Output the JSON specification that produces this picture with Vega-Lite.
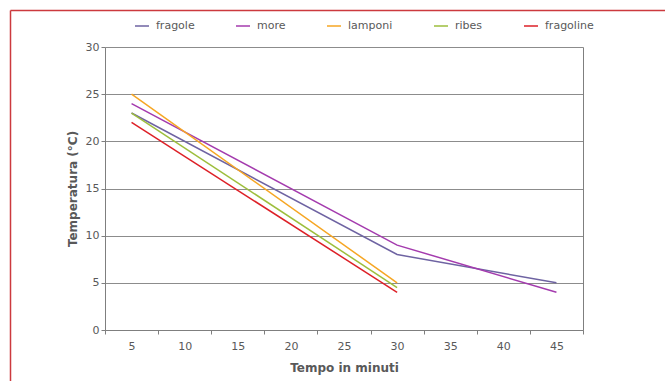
{
  "$schema": "https://vega.github.io/schema/vega-lite/v6.json",
  "width": 655,
  "height": 371,
  "autosize": "none",
  "padding": {"left": 10, "top": 10, "right": 0, "bottom": 0},
  "background": "white",
  "config": {
    "view": {"stroke": null},
    "font": "DejaVu Sans",
    "axis": {
      "labelFont": "DejaVu Sans",
      "labelFontSize": 11,
      "labelColor": "#595959",
      "titleFont": "DejaVu Sans",
      "titleFontSize": 12,
      "titleFontWeight": "bold",
      "titleColor": "#595959",
      "domainColor": "#7f7f7f",
      "tickColor": "#7f7f7f",
      "gridColor": "#8c8c8c",
      "gridOpacity": 1,
      "domainWidth": 1,
      "tickWidth": 1,
      "tickSize": 4
    }
  },
  "data": {
    "values": [
      {"serie": "fragole", "minuti": 5, "temp": 23},
      {"serie": "fragole", "minuti": 30, "temp": 8},
      {"serie": "fragole", "minuti": 45, "temp": 5},
      {"serie": "more", "minuti": 5, "temp": 24},
      {"serie": "more", "minuti": 30, "temp": 9},
      {"serie": "more", "minuti": 45, "temp": 4},
      {"serie": "lamponi", "minuti": 5, "temp": 25},
      {"serie": "lamponi", "minuti": 30, "temp": 5},
      {"serie": "ribes", "minuti": 5, "temp": 23},
      {"serie": "ribes", "minuti": 30, "temp": 4.5},
      {"serie": "fragoline", "minuti": 5, "temp": 22},
      {"serie": "fragoline", "minuti": 30, "temp": 4}
    ]
  },
  "layer": [
    {
      "mark": {"type": "line", "strokeWidth": 1.5},
      "encoding": {
        "x": {
          "field": "minuti",
          "type": "ordinal",
          "scale": {"type": "band", "domain": [5, 10, 15, 20, 25, 30, 35, 40, 45], "range": [95, 573], "paddingInner": 0, "paddingOuter": 0},
          "axis": {"title": "Tempo in minuti", "orient": "bottom", "offset": -51, "tickBand": "extent", "labelAngle": 0, "labelPadding": 6, "titlePadding": 11, "grid": false}
        },
        "y": {
          "field": "temp",
          "type": "quantitative",
          "scale": {"domain": [0, 30], "range": [320, 37], "nice": false},
          "axis": {"title": "Temperatura (°C)", "orient": "left", "offset": -95, "values": [0, 5, 10, 15, 20, 25, 30], "grid": true, "labelPadding": 2, "titlePadding": 6}
        },
        "color": {
          "field": "serie",
          "type": "nominal",
          "scale": {"domain": ["fragole", "more", "lamponi", "ribes", "fragoline"], "range": ["#6e63a2", "#a43bae", "#f6a623", "#9dbe3c", "#dd2027"]},
          "legend": {"orient": "none", "legendX": 124, "legendY": 8, "direction": "horizontal", "columns": 5, "title": null, "symbolType": "stroke", "symbolSize": 196, "symbolStrokeWidth": 1.5, "labelFontSize": 11, "labelColor": "#595959", "labelFont": "DejaVu Sans", "columnPadding": 38, "labelOffset": 6, "padding": 0}
        }
      }
    },
    {
      "mark": {"type": "line", "opacity": 0},
      "encoding": {
        "detail": {"field": "serie", "type": "nominal"},
        "x": {
          "field": "minuti",
          "type": "ordinal",
          "scale": {"type": "band", "domain": [5, 10, 15, 20, 25, 30, 35, 40, 45], "range": [95, 573], "paddingInner": 0, "paddingOuter": 0},
          "axis": null
        },
        "y": {
          "field": "temp",
          "type": "quantitative",
          "scale": {"domain": [0, 30], "range": [320, 37], "nice": false},
          "axis": {"orient": "right", "offset": -82, "title": null, "ticks": false, "labels": false, "grid": false, "domain": true}
        }
      }
    },
    {
      "mark": {"type": "line", "opacity": 0},
      "encoding": {
        "detail": {"field": "serie", "type": "nominal"},
        "x": {
          "field": "minuti",
          "type": "quantitative",
          "scale": {"domain": [5, 45], "nice": false, "zero": false},
          "axis": {"orient": "top", "title": null, "ticks": false, "labels": false, "grid": false, "domain": true, "domainColor": "#cc3a3e", "domainWidth": 1.5}
        },
        "y": {
          "field": "temp",
          "type": "quantitative",
          "scale": {"domain": [0, 30], "nice": false},
          "axis": {"orient": "left", "title": null, "ticks": false, "labels": false, "grid": false, "domain": true, "domainColor": "#cc3a3e", "domainWidth": 1.5}
        }
      }
    }
  ],
  "resolve": {"scale": {"x": "independent", "y": "independent"}, "axis": {"x": "independent", "y": "independent"}}
}
